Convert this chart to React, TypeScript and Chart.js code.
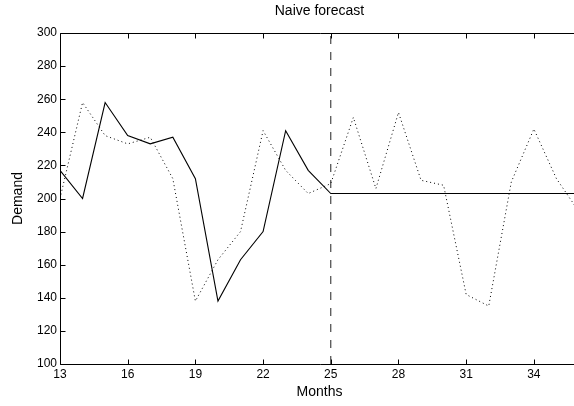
import React, { useEffect, useRef } from "react";
import { Chart, registerables } from "chart.js";

Chart.register(...registerables);

const months = [13, 14, 15, 16, 17, 18, 19, 20, 21, 22, 23, 24, 25, 26, 27, 28, 29, 30, 31, 32, 33, 34, 35, 36];
const demand = [200, 258, 238, 233, 237, 212, 138, 163, 180, 241, 217, 203, 209, 249, 206, 252, 211, 208, 142, 135, 210, 242, 212, 192];
const forecast = [217, 200, 258, 238, 233, 237, 212, 138, 163, 180, 241, 217, 203, 203, 203, 203, 203, 203, 203, 203, 203, 203, 203, 203];
const forecastStart = 25;
const xTickValues = [13, 16, 19, 22, 25, 28, 31, 34];
const yTickValues = [100, 120, 140, 160, 180, 200, 220, 240, 260, 280, 300];
const xMin = 13;
const xMax = 36;
const yMin = 100;
const yMax = 300;

const FONT = "'Liberation Sans', Arial, Helvetica, sans-serif";

const framePlugin = {
  id: "frame",
  afterDatasetsDraw(chart: any) {
    const { ctx, chartArea } = chart;
    const { left, right, top, bottom } = chartArea;
    const xs = chart.scales.x;
    const ys = chart.scales.y;
    const tick = 5;
    ctx.save();
    ctx.strokeStyle = "#000";
    ctx.lineWidth = 1;
    ctx.beginPath();
    const L = Math.round(left) + 0.5;
    const B = Math.round(bottom) + 0.5;
    const T = Math.round(top) + 0.5;
    ctx.moveTo(L, T);
    ctx.lineTo(L, B);
    ctx.lineTo(right + 2, B);
    ctx.moveTo(L, T);
    ctx.lineTo(right + 2, T);
    for (const v of xTickValues) {
      const px = Math.round(xs.getPixelForValue(v)) + 0.5;
      ctx.moveTo(px, B);
      ctx.lineTo(px, B - tick);
      ctx.moveTo(px, T);
      ctx.lineTo(px, T + tick);
    }
    for (const v of yTickValues) {
      const py = Math.round(ys.getPixelForValue(v)) + 0.5;
      ctx.moveTo(L, py);
      ctx.lineTo(L + tick, py);
    }
    ctx.stroke();
    ctx.restore();
  },
};

export default function App() {
  const ref = useRef<HTMLCanvasElement>(null);
  useEffect(() => {
    if (!ref.current) return;
    const chart = new Chart(ref.current, {
      type: "line",
      data: {
        datasets: [
          {
            label: "Demand",
            data: months.map((m, i) => ({ x: m, y: demand[i] })),
            borderColor: "#000",
            borderWidth: 1,
            borderDash: [1, 3],
            pointRadius: 0,
            tension: 0,
          },
          {
            label: "Naive forecast",
            data: months.map((m, i) => ({ x: m, y: forecast[i] })),
            borderColor: "#000",
            borderWidth: 1.1,
            pointRadius: 0,
            tension: 0,
          },
          {
            label: "Forecast start",
            data: [
              { x: forecastStart, y: yMin },
              { x: forecastStart, y: yMax },
            ],
            borderColor: "#222",
            borderWidth: 1,
            borderDash: [8, 8],
            pointRadius: 0,
          },
        ],
      },
      options: {
        responsive: false,
        animation: false,
        layout: { padding: { left: 0, right: 1, top: 0, bottom: 0 } },
        plugins: {
          legend: { display: false },
          tooltip: { enabled: false },
          title: {
            display: true,
            text: "Naive forecast",
            fullSize: false,
            color: "#000",
            font: { family: FONT, size: 14, weight: "normal" },
            padding: { top: 3, bottom: 13.2 },
          },
        },
        scales: {
          x: {
            type: "linear",
            min: xMin,
            max: xMax,
            grid: { display: false, drawTicks: false },
            border: { display: false },
            afterBuildTicks: (s: any) => {
              s.ticks = xTickValues.map((v) => ({ value: v }));
            },
            afterFit: (s: any) => {
              s.height = 42;
            },
            ticks: {
              color: "#000",
              font: { family: FONT, size: 12 },
              padding: 3,
              maxRotation: 0,
              autoSkip: false,
            },
            title: {
              display: true,
              text: "Months",
              color: "#000",
              font: { family: FONT, size: 14 },
              padding: { top: 0, bottom: 5 },
            },
          },
          y: {
            type: "linear",
            min: yMin,
            max: yMax,
            grid: { display: false, drawTicks: false },
            border: { display: false },
            afterBuildTicks: (s: any) => {
              s.ticks = yTickValues.map((v) => ({ value: v }));
            },
            afterFit: (s: any) => {
              s.width = 60;
            },
            ticks: {
              color: "#000",
              font: { family: FONT, size: 12 },
              padding: 3,
              autoSkip: false,
            },
            title: {
              display: true,
              text: "Demand",
              color: "#000",
              font: { family: FONT, size: 14 },
              padding: { top: 10, bottom: 0 },
            },
          },
        },
      },
      plugins: [framePlugin],
    });
    return () => chart.destroy();
  }, []);
  return (
    <div style={{ position: "fixed", left: 0, top: 0, width: 580, height: 406, background: "#fff" }}>
      <canvas ref={ref} width={580} height={406} style={{ display: "block" }} />
    </div>
  );
}
